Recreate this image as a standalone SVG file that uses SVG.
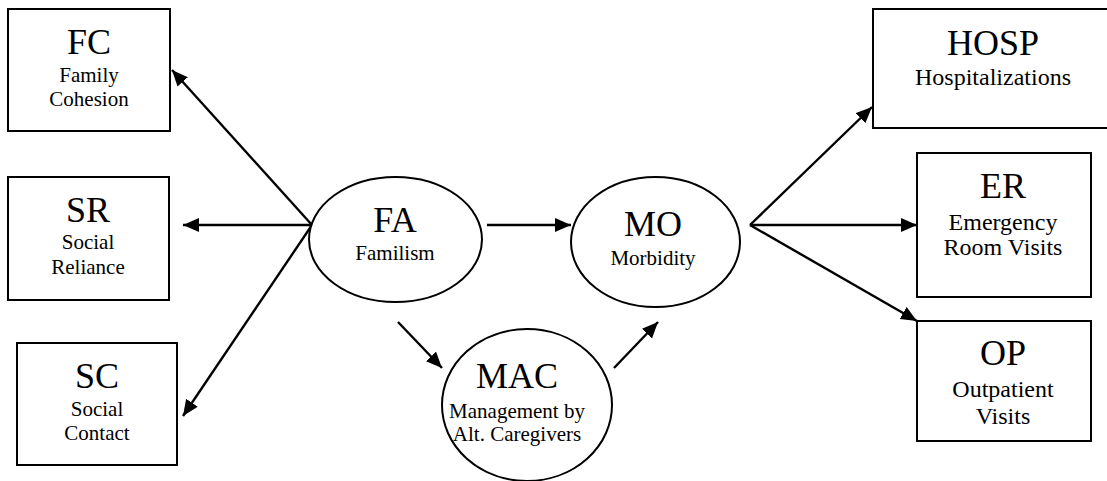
<svg xmlns="http://www.w3.org/2000/svg" width="1107" height="481" viewBox="0 0 1107 481">
<style>
.box{fill:#fff;stroke:#000;stroke-width:2}
.ell{fill:#fff;stroke:#000;stroke-width:2}
.big{font-size:36px;text-anchor:middle;fill:#000}
.sm{font-size:21px;text-anchor:middle;fill:#000}
.smr{font-size:24px;text-anchor:middle;fill:#000}
.con{stroke:#000;stroke-width:2.4;fill:none;marker-end:url(#ah)}
</style>
<defs>
<marker id="ah" markerUnits="userSpaceOnUse" markerWidth="17" markerHeight="15" refX="16" refY="7" orient="auto">
<path d="M0,0 L16,7 L0,14 z" fill="#000"/>
</marker>
</defs>
<rect width="1107" height="481" fill="#fff"/>
<g id="connectors">
<line class="con" x1="312" y1="225" x2="172" y2="70"/>
<line class="con" x1="312" y1="225" x2="183" y2="225"/>
<line class="con" x1="312" y1="225" x2="183" y2="416"/>
<line class="con" x1="487" y1="225" x2="571" y2="225"/>
<line class="con" x1="398" y1="322" x2="442" y2="368"/>
<line class="con" x1="614" y1="368" x2="658" y2="322"/>
<line class="con" x1="750" y1="225" x2="872" y2="107"/>
<line class="con" x1="750" y1="225" x2="917" y2="225"/>
<line class="con" x1="750" y1="225" x2="917" y2="321"/>
</g>
<g font-family="'Liberation Serif', 'Times New Roman', 'DejaVu Serif', serif">
<g id="FC">
<rect class="box" x="8" y="9" width="162" height="122"/>
<text class="big" x="89" y="54">FC</text>
<text class="sm" x="89" y="82">Family</text>
<text class="sm" x="89" y="106">Cohesion</text>
</g>
<g id="SR">
<rect class="box" x="8" y="177" width="161" height="123"/>
<text class="big" x="88" y="222">SR</text>
<text class="sm" x="88" y="249">Social</text>
<text class="sm" x="88" y="274">Reliance</text>
</g>
<g id="SC">
<rect class="box" x="17" y="343" width="160" height="122"/>
<text class="big" x="97" y="388">SC</text>
<text class="sm" x="97" y="416">Social</text>
<text class="sm" x="97" y="440">Contact</text>
</g>
<g id="FA">
<ellipse class="ell" cx="395.5" cy="239.5" rx="86.5" ry="62.5"/>
<text class="big" x="395" y="232">FA</text>
<text class="sm" x="395" y="260">Familism</text>
</g>
<g id="MO">
<ellipse class="ell" cx="655.5" cy="242" rx="84.5" ry="65"/>
<text class="big" x="653" y="236">MO</text>
<text class="sm" x="653" y="265">Morbidity</text>
</g>
<g id="MAC">
<ellipse class="ell" cx="527" cy="405" rx="85" ry="76"/>
<text class="big" x="517" y="388">MAC</text>
<text class="sm" x="517" y="418">Management by</text>
<text class="sm" x="517" y="441">Alt. Caregivers</text>
</g>
<g id="HOSP">
<rect class="box" x="873" y="9" width="250" height="119"/>
<text class="big" x="993" y="55">HOSP</text>
<text class="smr" x="993" y="85">Hospitalizations</text>
</g>
<g id="ER">
<rect class="box" x="917" y="153" width="174" height="144"/>
<text class="big" x="1003" y="198">ER</text>
<text class="smr" x="1003" y="230">Emergency</text>
<text class="smr" x="1003" y="255">Room Visits</text>
</g>
<g id="OP">
<rect class="box" x="917" y="321" width="174" height="120"/>
<text class="big" x="1003" y="365">OP</text>
<text class="smr" x="1003" y="397">Outpatient</text>
<text class="smr" x="1003" y="424">Visits</text>
</g>
</g>
</svg>
